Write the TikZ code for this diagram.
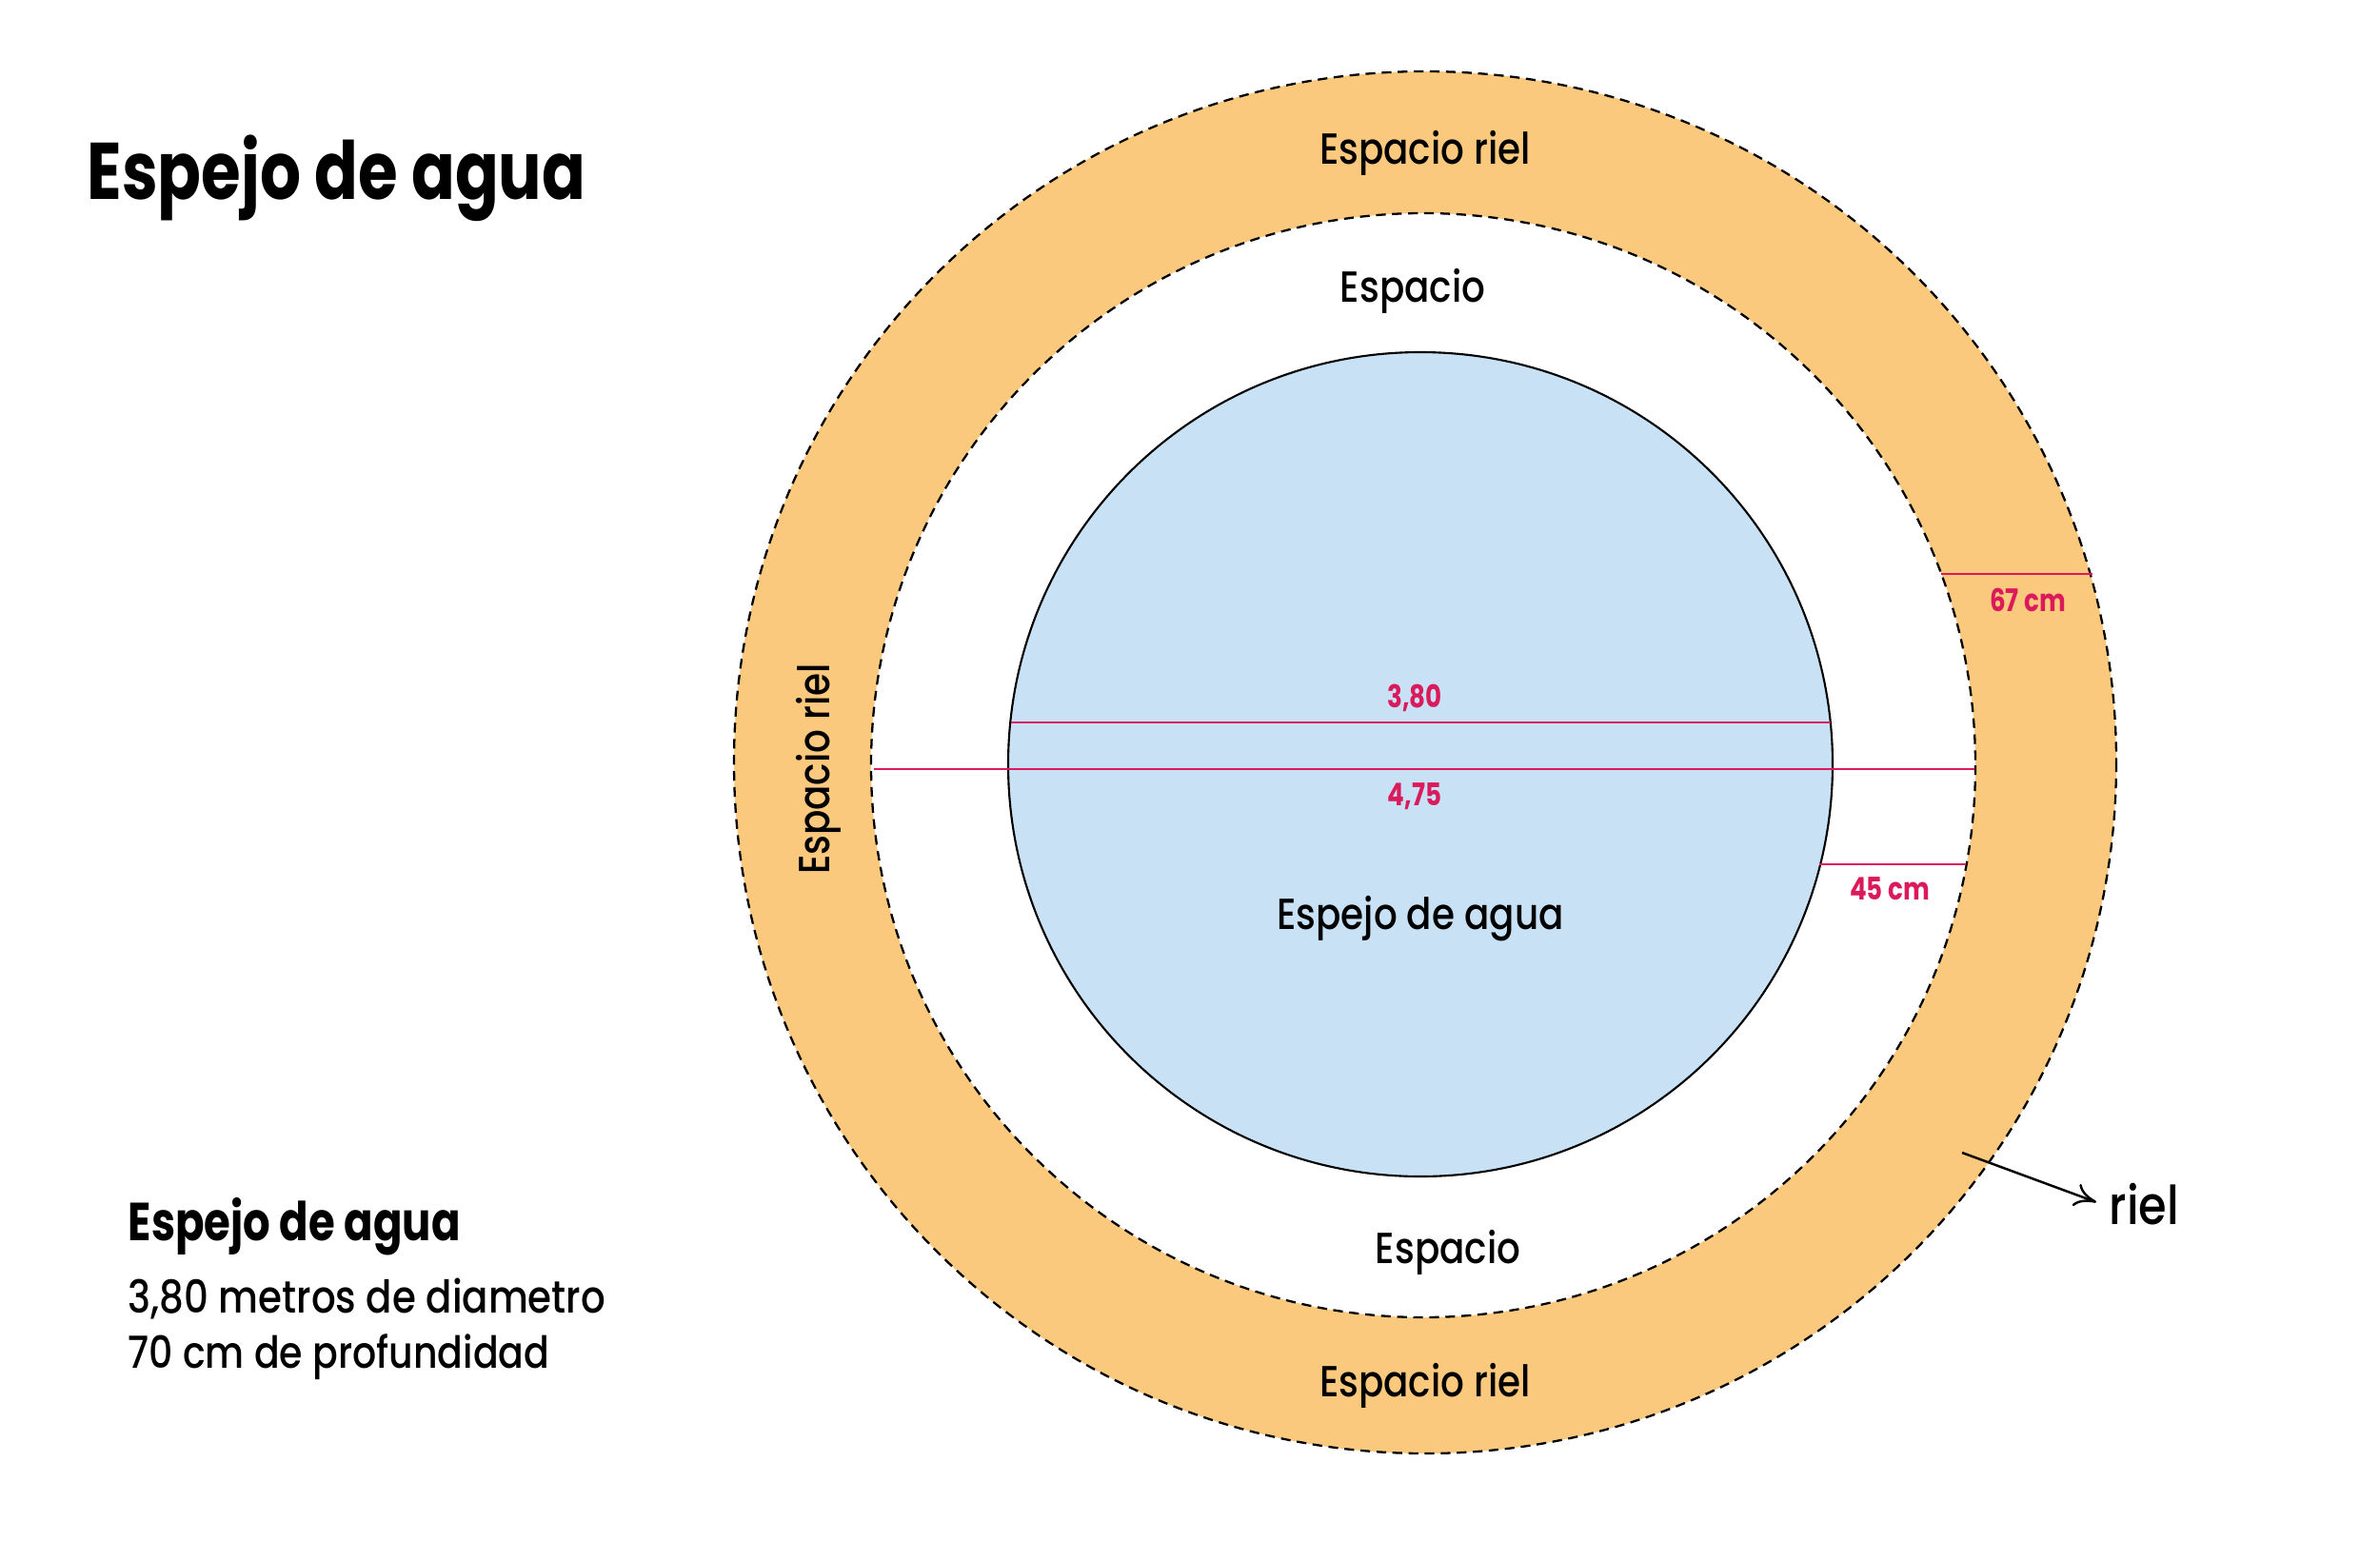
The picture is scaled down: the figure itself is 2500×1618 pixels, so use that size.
\documentclass[tikz,border=0pt]{standalone}
\usepackage{fontspec}
\setmainfont{Poppins}[UprightFont={* Medium}, FakeStretch=0.85, BoldFont={* Bold}, BoldFeatures={FakeStretch=0.80}]
\usetikzlibrary{arrows.meta}
\definecolor{ringor}{RGB}{251,201,125}
\definecolor{waterbl}{RGB}{200,225,245}
\definecolor{dimred}{RGB}{218,26,91}
\tikzset{
  ringline/.style={draw=black, line width=0.65pt, dash pattern=on 2.9pt off 1.9pt},
  dimline/.style={draw=dimred, line width=0.7pt},
  dimlabel/.style={text=dimred, font=\fontsize{9.3pt}{10pt}\selectfont\bfseries, anchor=base, inner sep=0pt},
  zonelabel/.style={font=\fontsize{13pt}{15pt}\selectfont, anchor=base, inner sep=0pt},
  infotext/.style={font=\fontsize{13.5pt}{16pt}\selectfont, anchor=base west, inner sep=0pt},
}
\begin{document}
\begin{tikzpicture}[x=0.01cm,y=-0.01cm]
\useasboundingbox (0,0) rectangle (2500,1618);
% rings
\path[fill=ringor, ringline] (1497,801) circle (726);
\path[fill=white, ringline] (1495,804) circle (580);
\path[fill=waterbl, draw=black, line width=0.6pt] (1492,803) circle (433);
% dimension coordinates
\coordinate (d38a) at (1062,759); \coordinate (d38b) at (1923,759);
\coordinate (d47a) at (918,808);  \coordinate (d47b) at (2074,808);
\coordinate (d67a) at (2039,603); \coordinate (d67b) at (2198,603);
\coordinate (d45a) at (1911,908); \coordinate (d45b) at (2065,908);
\draw[dimline] (d38a) -- (d38b);
\draw[dimline] (d47a) -- (d47b);
\draw[dimline] (d67a) -- (d67b);
\draw[dimline] (d45a) -- (d45b);
\node[dimlabel] (l38) at (1486,743) {3,80};
\node[dimlabel] (l47) at (1486,846) {4,75};
\node[dimlabel] (l67) at (2130,642) {67 cm};
\node[dimlabel] (l45) at (1985,945) {45 cm};
% zone labels
\node[zonelabel] (rtop) at (1497,172) {Espacio riel};
\node[zonelabel] (etop) at (1484,317) {Espacio};
\node[zonelabel] (agua) at (1492,976) {Espejo de agua};
\node[zonelabel] (ebot) at (1521,1327) {Espacio};
\node[zonelabel] (rbot) at (1497,1467) {Espacio riel};
\node[zonelabel, rotate=90] (rleft) at (871,808) {Espacio riel};
% riel arrow
\coordinate (rstart) at (2061,1211);
\node[font=\fontsize{16pt}{18pt}\selectfont, anchor=base west, inner sep=0pt] (riel) at (2215,1286) {riel};
\draw[line width=0.7pt, -{To[length=6.5pt,width=7pt]}] (rstart) -- (2202,1263);
% title and info
\node[font=\fontsize{24pt}{28pt}\selectfont\bfseries, anchor=base west, inner sep=0pt] (title) at (91,209) {Espejo de agua};
\node[font=\fontsize{16pt}{20pt}\selectfont\bfseries, anchor=base west, inner sep=0pt] (head) at (134,1303) {Espejo de agua};
\node[infotext] (line1) at (134,1379) {3,80 metros de diametro};
\node[font=\fontsize{13.2pt}{16pt}\selectfont, anchor=base west, inner sep=0pt] (line2) at (134,1437) {70 cm de profundidad};
\end{tikzpicture}
\end{document}
